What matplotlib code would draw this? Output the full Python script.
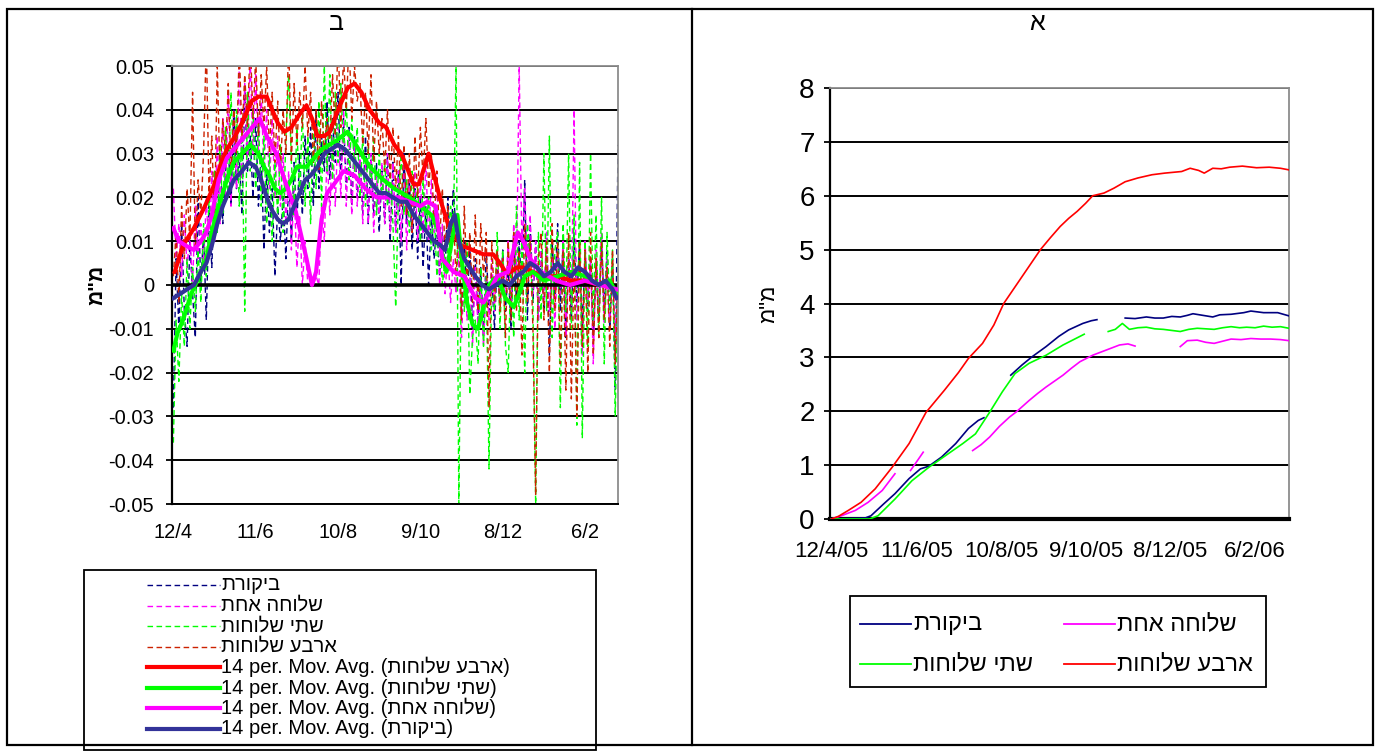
import numpy as np
import matplotlib
matplotlib.use('Agg')
import matplotlib.pyplot as plt
from matplotlib import font_manager
from matplotlib.patches import Rectangle

nan = float('nan')

# x axis = days counted from 12/4/05
tick_days = [0, 60, 120, 180, 240, 300]
left_tick_labels = ['12/4', '11/6', '10/8', '9/10', '8/12', '6/2']
right_tick_labels = ['12/4/05', '11/6/05', '10/8/05', '9/10/05', '8/12/05', '6/2/06']

names = ['ביקורת', 'שלוחה אחת', 'שתי שלוחות', 'ארבע שלוחות']

# --- panel ב : daily change, one reading every 2nd day, units of 0.001 mm
raw_days = np.arange(0, 325, 2)
raw_control = [-28, 6, -10, 14, -6, -14, 10, -2, -12, 20,
               0, 12, -8, 18, 4, 22, 12, 30, 14, 26,
               32, 18, 40, 22, 30, 16, 44, 26, 34, 20,
               38, 18, 30, 8, 26, 12, 22, 2, 18, 10,
               20, 6, 24, 10, 28, 14, 30, 16, 34, 22,
               36, 18, 40, 22, 34, 26, 42, 24, 38, 28,
               44, 24, 38, 22, 36, 18, 34, 20, 30, 16,
               34, 14, 30, 16, 28, 12, 26, 14, 30, 10,
               28, 12, 26, 0, 30, 14, 24, 8, 22, 6,
               20, 4, 18, 0, 16, 6, 14, 2, 12, 4,
               20, 8, 22, 12, 6, -6, 10, -4, 8, -10,
               6, -8, 4, -12, 8, -6, 2, -10, 6, -4,
               8, -6, 4, -10, 12, -4, 10, -2, 24, -8,
               14, -4, 10, -8, 8, -6, 12, -16, 10, -2,
               14, -6, 10, -12, 6, -8, 12, -4, 10, -10,
               8, -6, 6, -12, 4, -8, 10, -6, 8, -10,
               6, -24, 32]
raw_one = [22, 6, 14, 2, 16, 4, 12, 0, 18, 6,
           14, 4, 20, 6, 26, 10, 34, 14, 38, 20,
           44, 18, 40, 22, 50, 24, 46, 28, 52, 30,
           48, 30, 44, 26, 40, 22, 38, 20, 34, 18,
           30, 14, 26, 8, 22, 4, 16, 0, 10, 0,
           0, 0, 2, 0, 18, 10, 30, 16, 34, 18,
           36, 20, 40, 18, 34, 16, 32, 18, 30, 14,
           28, 14, 30, 12, 26, 16, 28, 14, 30, 12,
           28, 12, 26, 10, 30, 8, 24, 12, 26, 10,
           24, 12, 28, 10, 24, 12, 26, 0, 14, -2,
           8, -4, 6, -2, 8, -12, 4, -8, 2, -14,
           4, -10, 0, -14, 2, -8, 6, -6, 8, -4,
           6, -2, 10, -4, 14, 2, 50, 8, 22, 4,
           16, -2, 10, -8, 8, -4, 12, -6, 6, -10,
           8, -2, 10, -12, 6, -6, 40, -8, 4, -16,
           10, -4, 6, -18, 8, -6, 12, -10, 6, -8,
           4, -12, 2]
raw_two = [-36, -8, -22, -2, -14, 6, -10, 4, -6, 8,
           -4, 14, 2, 20, 8, 26, 12, 32, 16, 36,
           20, 44, 24, 40, 18, 36, -6, 44, 26, 40,
           22, 38, 18, 34, 14, 30, 10, 28, 16, 32,
           12, 34, 48, 28, 16, 36, 20, 40, 18, 34,
           14, 38, 22, 42, 18, 50, 26, 48, 24, 44,
           28, 46, 30, 42, 24, 38, 26, 36, 20, 34,
           18, 32, 22, 34, 16, 30, 20, 28, 18, 26,
           14, -5, 20, 30, 16, 24, 12, 26, 18, 22,
           10, 24, 12, 20, 8, 18, 2, 14, 0, 6,
           8, 18, 12, 50, -50, 8, -6, 10, -25, -12,
           -8, -18, 4, -14, 2, -42, 2, -6, 12, -10,
           8, -14, -20, 6, -12, 18, -8, 10, -20, 14,
           6, -4, -50, 12, -8, 30, -6, 34, -12, 8,
           12, -28, 14, -6, 30, -10, 16, -32, 28, -35,
           10, -14, 30, -8, 16, -12, 20, -18, 12, -6,
           8, -30, 4]
raw_four = [2, 12, -4, 18, 6, 22, 10, 44, 8, 24,
            16, 30, 56, 20, 34, 14, 50, 24, 38, 30,
            46, 26, 40, 30, 54, 34, 48, 36, 56, 38,
            52, 34, 48, 36, 50, 30, 44, 28, 42, 26,
            40, 30, 56, 28, 46, 32, 44, 36, 50, 34,
            44, 28, 40, 26, 42, 30, 38, 32, 48, 34,
            56, 36, 52, 40, 56, 38, 50, 42, 46, 32,
            44, 30, 48, 28, 42, 30, 38, 26, 40, 24,
            36, 22, 34, 18, 32, 16, 30, 12, 34, 20,
            36, 24, 38, 22, 30, 14, 26, 10, 22, 8,
            18, 4, 16, 2, 14, -8, 18, 0, 12, -4,
            16, -6, 14, 2, 12, -28, 10, -4, 8, -6,
            6, -12, 10, -8, 12, -6, 8, -16, 14, -4,
            10, -10, -48, 6, 12, -8, 10, -20, 14, -6,
            10, -18, 8, -24, 12, -26, 6, -30, 10, -14,
            8, -20, 12, -16, 6, -12, 10, -8, 4, -14,
            8, -18, 2]

# 14 per. moving averages (0.001 mm)
ma_control_days = [0, 5, 10, 15, 20, 24, 28, 32, 36, 40, 44, 50, 55, 60, 64, 68, 72, 76, 80, 84,
                   88, 92, 96, 100, 105, 110, 115, 120, 125, 130, 135, 140, 145, 150, 155, 160,
                   165, 170, 175, 180, 185, 190, 195, 198, 202, 205, 208, 212, 216, 220, 225, 230,
                   235, 240, 245, 250, 255, 260, 265, 270, 275, 280, 285, 290, 295, 300, 305, 310,
                   315, 320, 323]
ma_control = [-3, -2, -1, 0, 3, 5, 9, 14, 18, 21, 24, 26, 28, 27, 24, 20, 17, 15, 14, 15,
              18, 21, 24, 25, 27, 30, 31, 32, 31, 29, 27, 25, 23, 21, 21, 20,
              19, 19, 16, 14, 12, 10, 9, 8, 14, 16, 10, 6, 4, 2, 0, -1,
              0, 1, 0, 2, 3, 5, 4, 2, 3, 5, 3, 2, 4, 3, 1, 0,
              1, -1, -3]
ma_one_days = [0, 4, 9, 15, 20, 24, 28, 33, 39, 44, 52, 60, 63, 68, 75, 81, 89, 97, 101, 104,
               108, 112, 117, 124, 132, 140, 148, 156, 164, 172, 180, 185, 191, 196, 204, 212,
               220, 226, 236, 244, 251, 255, 260, 268, 279, 289, 300, 311, 323]
ma_one = [13, 10, 9, 8, 10, 12, 16, 24, 29, 31, 34, 37, 38, 34, 30, 24, 17, 6, 0, 3,
          15, 21, 23, 26, 25, 22, 20, 20, 20, 19, 18, 19, 18, 6, 3, 2,
          -3, -4, 2, 3, 12, 10, 6, 3, 1, 0, 1, 0, -1]
ma_two_days = [0, 3, 7, 10, 13, 16, 20, 24, 28, 32, 36, 40, 44, 50, 56, 62, 66, 70, 74, 78,
               82, 86, 90, 97, 108, 119, 127, 135, 143, 153, 161, 172, 180, 188, 193, 196, 199,
               204, 207, 210, 214, 218, 222, 226, 230, 236, 242, 248, 252, 256, 262, 270, 280,
               290, 300, 310, 318, 323]
ma_two = [-15, -11, -8, -5, -2, 0, 3, 6, 12, 17, 21, 25, 28, 30, 32, 30, 27, 25, 22, 21,
          22, 24, 27, 27, 31, 33, 35, 31, 27, 24, 22, 20, 18, 16, 13, 7, 3,
          12, 16, 6, -4, -9, -10, -5, 0, 2, -3, -5, -2, 2, 3, 1, 2,
          3, 2, 0, 1, -2]
ma_four_days = [1, 7, 15, 23, 30, 35, 39, 45, 50, 57, 62, 68, 72, 76, 81, 86, 92, 97, 101, 105,
                110, 114, 120, 127, 132, 137, 143, 150, 155, 161, 166, 170, 175, 179, 183, 186,
                190, 195, 200, 205, 210, 218, 226, 233, 238, 242, 246, 250, 255, 262, 270, 280,
                290, 300, 310, 318, 323]
ma_four = [3, 9, 13, 18, 23, 28, 31, 34, 37, 42, 43, 43, 40, 37, 35, 36, 39, 41, 38, 34,
           34, 35, 40, 45, 46, 44, 40, 37, 36, 32, 30, 27, 23, 23, 27, 30,
           25, 19, 14, 11, 9, 8, 7, 7, 5, 3, 3, 4, 4, 3, 2, 2,
           1, 1, 0, 0, -2]

# --- panel א : cumulative (mm), nan = gap in the record
cum_control_days = [0, 24, 28, 37, 45, 55, 63, 69, 78, 88, 97, 104, 108, nan,
                    127, 135, 142, 152, 161, 168, 178, 184, 188, nan,
                    208, 215, 223, 229, 235, 241, 247, 252, 256, 263, 270, 275, 283, 292, 297,
                    306, 316, 324]
cum_control = [0, 0.02, 0.06, 0.28, 0.47, 0.75, 0.93, 0.98, 1.15, 1.40, 1.68, 1.83, 1.88, nan,
               2.67, 2.86, 3.01, 3.20, 3.39, 3.51, 3.63, 3.68, 3.70, nan,
               3.73, 3.72, 3.75, 3.73, 3.73, 3.76, 3.75, 3.78, 3.81, 3.78, 3.75, 3.79, 3.80, 3.83,
               3.86, 3.83, 3.83, 3.77]
cum_one_days = [0, 7, 17, 26, 36, 45, nan, 56, 60, 65, nan,
                100, 106, 112, 119, 126, 131, 140, 146, 152, 158, 164, 170, 176, 185, 195, 204,
                210, 215, nan,
                247, 252, 259, 265, 271, 277, 283, 290, 297, 304, 311, 318, 324]
cum_one = [0, 0.06, 0.16, 0.31, 0.53, 0.84, nan, 0.90, 1.05, 1.24, nan,
           1.27, 1.38, 1.52, 1.72, 1.89, 1.99, 2.20, 2.33, 2.45, 2.56, 2.67, 2.80, 2.92, 3.04,
           3.14, 3.23, 3.25, 3.21, nan,
           3.20, 3.31, 3.32, 3.28, 3.26, 3.30, 3.34, 3.33, 3.35, 3.34, 3.34, 3.33, 3.31]
cum_two_days = [0, 27, 33, 45, 57, 69, 81, 93, 102, 112, 121, 130, 140, 152, 164, 173, 179, nan,
                196, 201, 206, 211, 217, 223, 229, 235, 241, 247, 253, 259, 265, 271, 277, 283,
                289, 294, 300, 306, 312, 318, 324]
cum_two = [0, 0.0, 0.06, 0.37, 0.71, 0.96, 1.18, 1.40, 1.58, 1.98, 2.36, 2.70, 2.89, 3.04, 3.23,
           3.35, 3.43, nan,
           3.48, 3.52, 3.63, 3.52, 3.55, 3.56, 3.53, 3.52, 3.50, 3.48, 3.52, 3.54, 3.53, 3.52,
           3.55, 3.57, 3.55, 3.56, 3.55, 3.58, 3.56, 3.57, 3.54]
cum_four_days = [0, 5, 12, 21, 31, 43, 55, 67, 80, 90, 97, 107, 115, 122, 135, 148, 155, 162,
                 168, 174, 180, 185, 193, 200, 208, 217, 227, 236, 248, 254, 260, 264, 270, 276,
                 282, 291, 301, 310, 318, 324]
cum_four = [0, 0.05, 0.16, 0.31, 0.56, 0.96, 1.40, 1.98, 2.39, 2.72, 2.98, 3.26, 3.60, 4.00,
            4.50, 5.00, 5.22, 5.43, 5.58, 5.71, 5.86, 6.00, 6.05, 6.14, 6.26, 6.33, 6.39, 6.42,
            6.45, 6.51, 6.47, 6.42, 6.51, 6.50, 6.53, 6.55, 6.52, 6.53, 6.51, 6.48]

raw_colors = ['#000080', '#FF00FF', '#00FF00', '#CC2200']
ma_colors = ['#333399', '#FF00FF', '#00FF00', '#FF0000']
cum_colors = ['#000080', '#FF00FF', '#00FF00', '#FF0000']

W, H = 1380, 752
available = {f.name for f in font_manager.fontManager.ttflist}
narrow = 'Liberation Sans Narrow' if 'Liberation Sans Narrow' in available else 'Liberation Sans'
plt.rcParams['font.family'] = ['Liberation Sans', 'DejaVu Sans']


def vis(s):
    # matplotlib has no bidi: put Hebrew in visual (left-to-right) order
    return s[::-1]


def box(x0, y0, x1, y1):
    return [x0 / W, 1 - y1 / H, (x1 - x0) / W, (y1 - y0) / H]


def style_axes(ax, ymin, ymax, step, labels, ysize, xsize, xfont, ypad, xpad):
    ax.set_xlim(-1, 324)
    ax.set_ylim(ymin, ymax)
    ax.set_yticks(np.round(np.arange(ymin, ymax + step / 2, step), 3))
    ax.set_xticks(tick_days)
    ax.set_xticklabels(labels, fontsize=xsize, family=[xfont, 'DejaVu Sans'])
    ax.tick_params(axis='y', direction='out', length=4, width=1.3, labelsize=ysize, pad=ypad)
    ax.tick_params(axis='x', length=0, pad=xpad)
    for lab in ax.get_yticklabels():
        lab.set_family([xfont, 'DejaVu Sans'])
    ax.grid(axis='y', color='black', lw=1.4)
    ax.set_axisbelow(True)
    for side in ('top', 'right'):
        ax.spines[side].set_color('#8c8c8c')
        ax.spines[side].set_linewidth(1.3)
    ax.spines['left'].set_linewidth(1.6)
    ax.spines['bottom'].set_linewidth(1.4)


fig = plt.figure(figsize=(W / 100, H / 100), dpi=100)

# ---------------- panel ב
axb = fig.add_axes(box(172, 66, 618, 504))
raw_sets = [raw_control, raw_one, raw_two, raw_four]
for vals, c in zip(raw_sets, raw_colors):
    axb.plot(raw_days, np.array(vals) / 1000, color=c, lw=1.0, dashes=(4, 2.5), zorder=2)
ma_sets = [(ma_four_days, ma_four, 3), (ma_two_days, ma_two, 2),
           (ma_one_days, ma_one, 1), (ma_control_days, ma_control, 0)]
for d, v, k in ma_sets:
    axb.plot(d, np.array(v) / 1000, color=ma_colors[k], lw=3.0, zorder=3)
axb.axhline(0, color='black', lw=2.6, zorder=2.5)
style_axes(axb, -0.05, 0.05, 0.01, left_tick_labels, 14.5, 14.5, 'Liberation Sans', 9, 14)
axb.yaxis.set_major_formatter(matplotlib.ticker.FuncFormatter(lambda v, p: f'{v:g}'))
axb.set_ylabel('מ"מ', fontsize=15, fontweight='bold', labelpad=1)

# ---------------- panel א
axa = fig.add_axes(box(830, 88, 1289, 519))
cum_sets = [(cum_control_days, cum_control), (cum_one_days, cum_one),
            (cum_two_days, cum_two), (cum_four_days, cum_four)]
for (d, v), c in zip(cum_sets, cum_colors):
    axa.plot(d, v, color=c, lw=1.2, zorder=3)
style_axes(axa, 0, 8, 1, right_tick_labels, 20, 16, narrow, 7, 16)
axa.spines['bottom'].set_linewidth(3.0)
axa.set_ylabel('מ"מ', fontsize=16, labelpad=14)

# ---------------- table frame, headers and legends (figure pixel space)
ov = fig.add_axes([0, 0, 1, 1])
ov.set_xlim(0, W)
ov.set_ylim(H, 0)
ov.axis('off')
ov.add_patch(Rectangle((7, 9), 1366, 736, fill=False, ec='black', lw=1.6))
ov.plot([692, 692], [9, 745], color='black', lw=1.6)
ov.text(337, 23, 'ב', fontsize=18, ha='center', va='center')
ov.text(1037, 23, 'א', fontsize=18, ha='center', va='center')

# legend of panel ב
ov.add_patch(Rectangle((84, 570), 512, 180, fill=False, ec='black', lw=1.3))
entries = []
for k in range(4):
    entries.append((vis(names[k]), raw_colors[k], 1.0, True))
for k in (3, 2, 1, 0):
    entries.append(('14 per. Mov. Avg. (' + vis(names[k]) + ')', ma_colors[k], 3.0, False))
for i, (txt, c, lw, dashed) in enumerate(entries):
    y = 585 + i * 20.5
    ln, = ov.plot([147, 220], [y, y], color=c, lw=lw)
    if dashed:
        ln.set_dashes((4, 2.5))
    ov.text(221, y, txt, fontsize=14.5, ha='left', va='center')

# legend of panel א
ov.add_patch(Rectangle((850, 596), 416, 91, fill=False, ec='black', lw=1.3))
slots = [(0, 860, 624), (1, 1064, 624), (2, 860, 664), (3, 1064, 664)]
for k, x, y in slots:
    ov.plot([x, x + 51], [y, y], color=cum_colors[k], lw=1.3)
    ov.text(x + 53, y, vis(names[k]), fontsize=17, ha='left', va='center')

fig.savefig('out.png', dpi=100)
